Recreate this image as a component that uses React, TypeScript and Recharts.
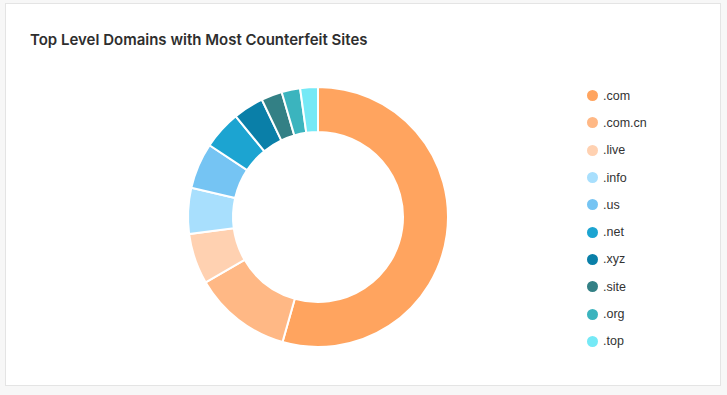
import { PieChart, Pie, Cell, Legend } from "recharts";

const domains = [".com", ".com.cn", ".live", ".info", ".us", ".net", ".xyz", ".site", ".org", ".top"];
const siteCounts = [544, 122, 63, 57, 57, 48, 38, 26, 23, 22];
const colors = [
  "#FFA45F",
  "#FFB885",
  "#FFD1B1",
  "#A8DFFD",
  "#75C4F3",
  "#1CA4D1",
  "#0A7FA8",
  "#338085",
  "#3BB4BE",
  "#75E9F6",
];

const data = domains.map((name, i) => ({ name, value: siteCounts[i] }));

const LegendList = () => (
  <div style={{ display: "flex", flexDirection: "column", gap: 0 }}>
    {data.map((item, index) => (
      <div
        key={item.name}
        style={{ display: "flex", alignItems: "center", height: 27.3 }}
      >
        <span
          style={{
            width: 11,
            height: 11,
            borderRadius: "50%",
            backgroundColor: colors[index],
            marginRight: 5,
          }}
        ></span>
        <span
          style={{
            fontFamily: "'Liberation Sans', Arial, sans-serif",
            fontSize: 12.5,
            color: "#333",
          }}
        >
          {item.name}
        </span>
      </div>
    ))}
  </div>
);

const App = () => {
  return (
    <div
      style={{
        position: "absolute",
        top: 0,
        left: 0,
        width: 727,
        height: 395,
        background: "#F7F7F7",
      }}
    >
      <div
        style={{
          position: "absolute",
          left: 5,
          top: 3,
          width: 714,
          height: 381,
          background: "#fff",
          border: "1px solid #E4E4E4",
        }}
      ></div>
      <div
        style={{
          position: "absolute",
          left: 30,
          top: 30,
          fontFamily: "Inter, sans-serif",
          fontSize: 15,
          fontWeight: 600,
          color: "#2E2E2E",
        }}
      >
        Top Level Domains with Most Counterfeit Sites
      </div>
      <div style={{ position: "absolute", left: 0, top: 0 }}>
        <PieChart width={727} height={395} margin={{ top: 0, right: 0, bottom: 0, left: 0 }}>
          <Pie
            data={data}
            dataKey="value"
            nameKey="name"
            cx={318}
            cy={217}
            innerRadius={85}
            outerRadius={130}
            startAngle={90}
            endAngle={-270}
            stroke="#fff"
            strokeWidth={2}
            isAnimationActive={false}
          >
            {data.map((entry, index) => (
              <Cell key={`cell-${entry.name}`} fill={colors[index]} />
            ))}
          </Pie>
          <Legend
            content={() => <LegendList />}
            wrapperStyle={{ position: "absolute", left: 587, top: 82, width: 120 }}
          />
        </PieChart>
      </div>
    </div>
  );
};

export default App;
